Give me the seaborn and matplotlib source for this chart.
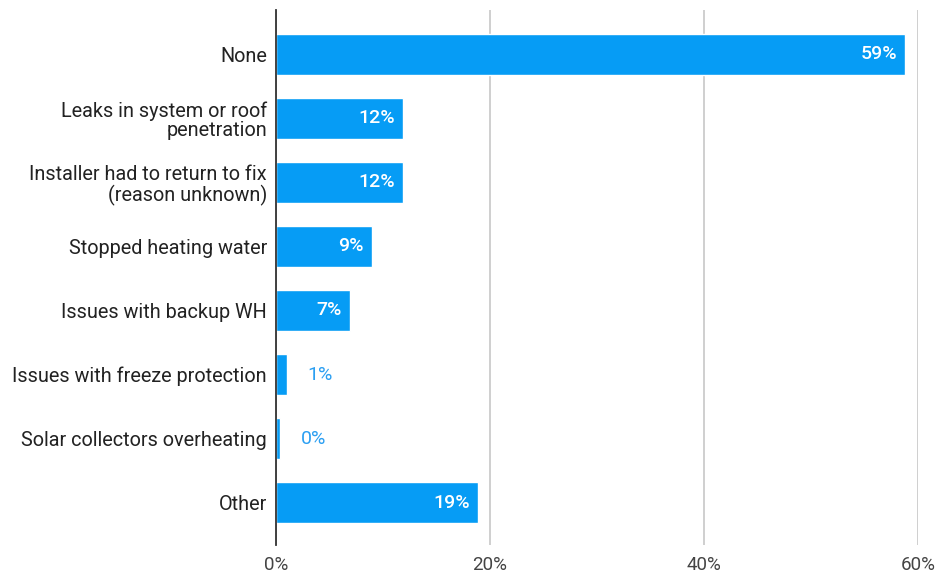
import matplotlib
matplotlib.use("Agg")
import matplotlib.pyplot as plt
import seaborn as sns
import pandas as pd

categories = [
    "None",
    "Leaks in system or roof\npenetration",
    "Installer had to return to fix\n(reason unknown)",
    "Stopped heating water",
    "Issues with backup WH",
    "Issues with freeze protection",
    "Solar collectors overheating",
    "Other",
]
values = [58.8, 11.9, 11.9, 9.0, 6.9, 1.0, 0.4, 18.9]
labels = ["59%", "12%", "12%", "9%", "7%", "1%", "0%", "19%"]
x_ticks = [0, 20, 40, 60]
x_tick_labels = ["0%", "20%", "40%", "60%"]

BAR = "#069cf5"
TEXT = "#222222"

df = pd.DataFrame({"category": categories, "value": values})

sns.set_theme(style="white")
plt.rcParams["font.family"] = ["Roboto", "DejaVu Sans"]

fig = plt.figure(figsize=(9.35, 5.79), dpi=100)
ax = fig.add_axes([276 / 935, 1 - 545 / 579, (918 - 276) / 935, (545 - 10) / 579])

sns.barplot(data=df, x="value", y="category", orient="h", color=BAR,
            saturation=1, width=0.64, ax=ax)

ax.set_xlim(0, 60)
ax.set_ylim(7.66, -0.69)
ax.set_xticks(x_ticks)
ax.set_xticklabels(x_tick_labels, fontsize=13.5, color="#444444")
ax.tick_params(axis="x", length=0, pad=8)
ax.tick_params(axis="y", length=0, pad=6.5, labelsize=14.3, labelcolor=TEXT)
for lbl in ax.get_yticklabels():
    lbl.set_horizontalalignment("right")
    lbl.set_multialignment("right")
    lbl.set_linespacing(1.05)
ax.set_xlabel("")
ax.set_ylabel("")

ax.grid(axis="x", color="#cfcfcf", linewidth=1.4)
ax.set_axisbelow(True)
for side in ["top", "right", "bottom"]:
    ax.spines[side].set_visible(False)
ax.spines["left"].set_color("#333333")
ax.spines["left"].set_linewidth(1.3)
ax.spines["left"].set_zorder(5)

for bar, lab, v in zip(ax.patches, labels, values):
    y = bar.get_y() + bar.get_height() / 2
    end = bar.get_x() + bar.get_width()
    if v >= 5:
        ax.annotate(lab, xy=(end, y), xytext=(-6, 0), textcoords="offset points",
                    ha="right", va="center", color="white", fontsize=14,
                    fontweight="medium")
    else:
        ax.annotate(lab, xy=(end, y), xytext=(15, 0), textcoords="offset points",
                    ha="left", va="center", color="#2b9ff2", fontsize=14)

fig.savefig("out.png", dpi=100, facecolor="white")
